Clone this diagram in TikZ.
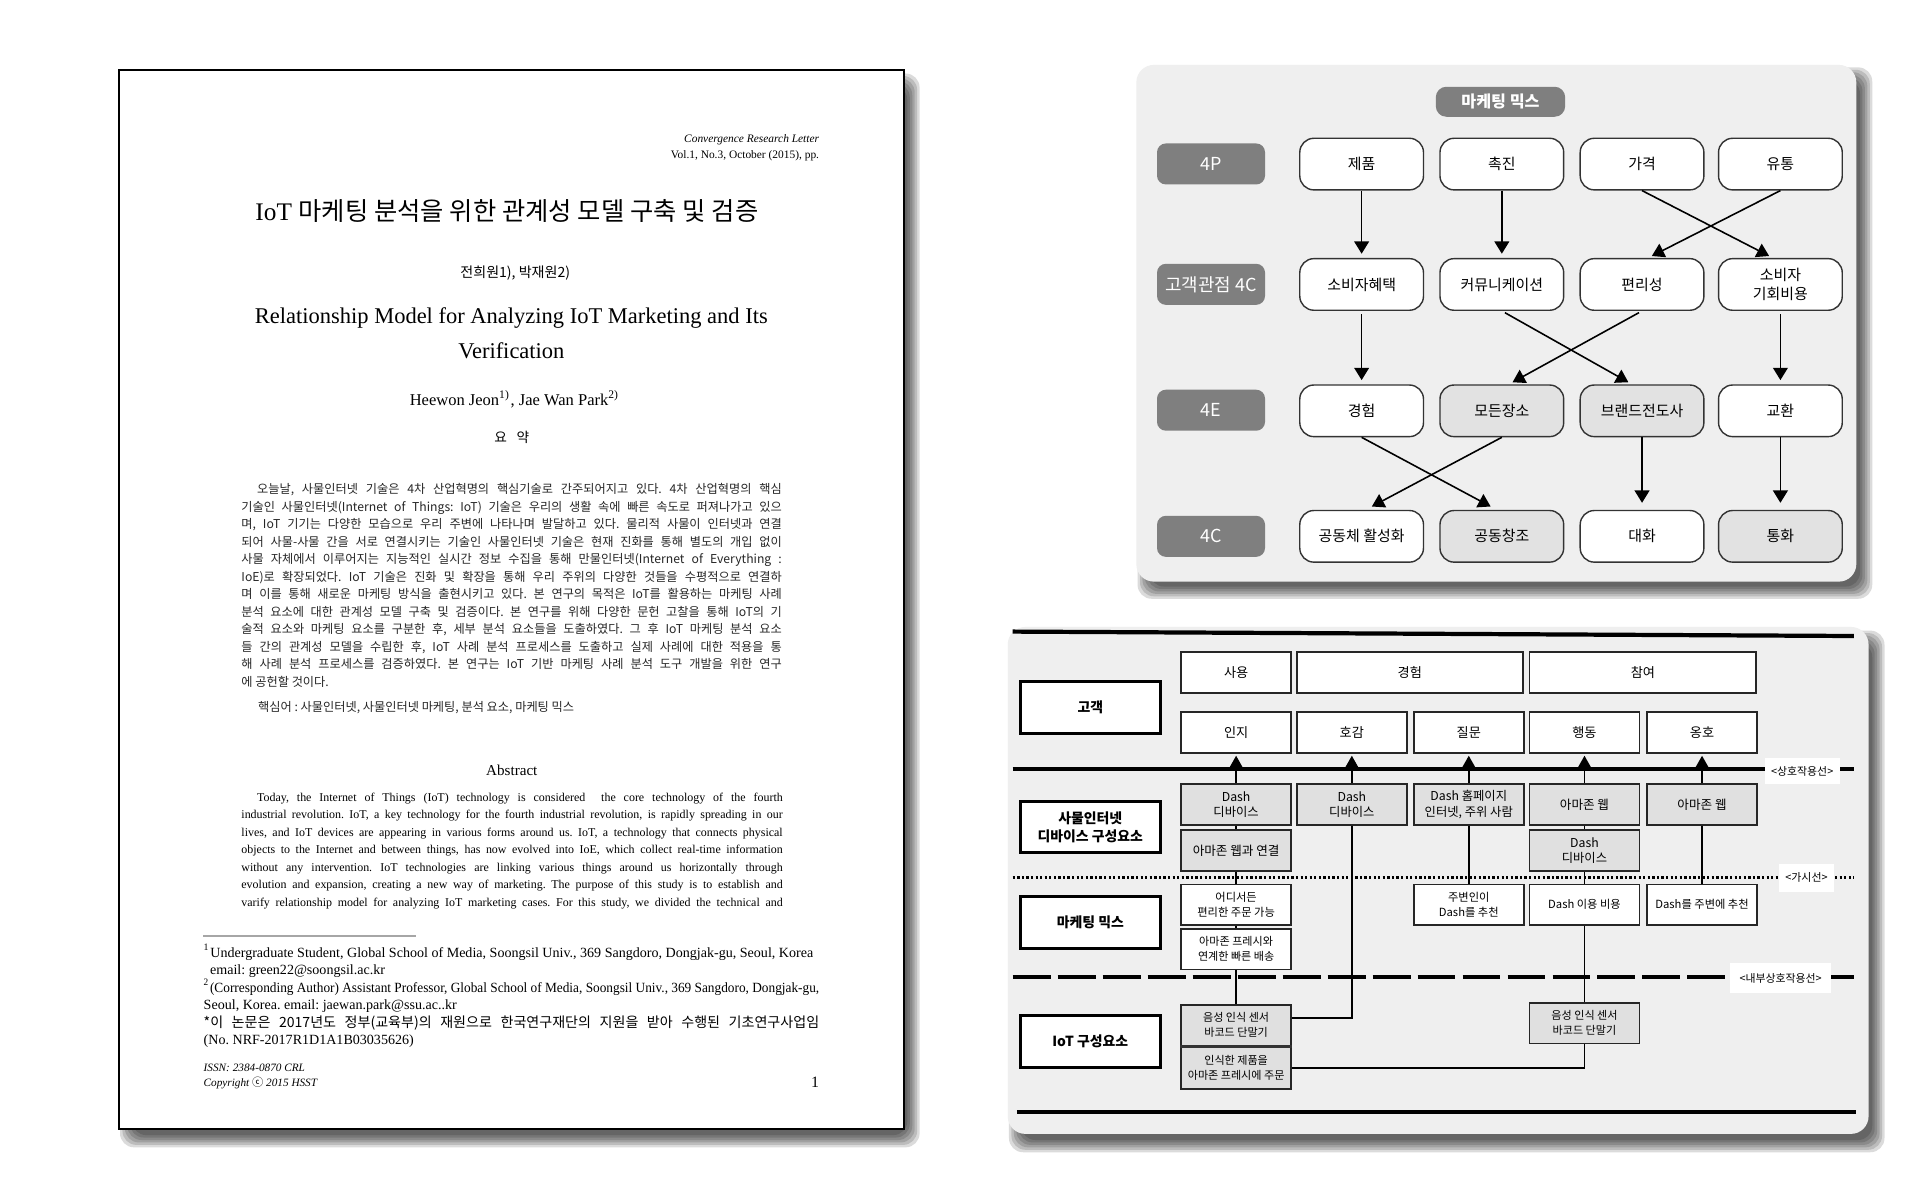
\documentclass[tikz,border=0pt]{standalone}
\usepackage{fontspec}
\usepackage{graphicx}
\setmainfont{Liberation Serif}
\newfontfamily\kr{Noto Sans CJK KR}
\usetikzlibrary{arrows.meta}
\frenchspacing

\definecolor{panelbg}{HTML}{EFEFEF}
\definecolor{tagfill}{HTML}{7F7F7F}
\definecolor{nodegray}{HTML}{E2E2E2}
\definecolor{cellgray}{HTML}{E0E0E0}

% blurred drop shadow, given the shifted rectangle
\newcommand{\softshadow}[4]{%
  \foreach \e in {6,4,2,0,-2,-4}
    \fill[black, opacity=0.14, rounded corners=4pt] ({#1-\e},{#2-\e}) rectangle ({#3+\e},{#4+\e});%
}
% one justified line of the page
\newsavebox\linebox
\newcommand{\fitline}[2]{%
  \sbox\linebox{#2}%
  \ifdim\wd\linebox>#1\relax\resizebox{#1}{\height}{\usebox\linebox}%
  \else\makebox[#1][s]{#2}\fi}

\begin{document}
\begin{tikzpicture}[x=0.122449mm, y=-0.122449mm,
  kline/.style={anchor=base west, inner sep=0pt, text=black!85, font=\kr\fontsize{3.47}{4}\selectfont},
  eline/.style={anchor=base west, inner sep=0pt, font=\fontsize{3.4}{4}\selectfont},
  fnote/.style={anchor=base west, inner sep=0pt, font=\fontsize{4}{5}\selectfont},
  fourbox/.style={draw=black!80, line width=0.4pt, fill=white, rounded corners=4pt,
    minimum width=12.37mm, minimum height=5.16mm, inner sep=0pt, align=center,
    font=\kr\fontsize{4.25}{5.5}\selectfont},
  fourgray/.style={fourbox, fill=nodegray},
  rowtag/.style={fill=tagfill, rounded corners=2.5pt, minimum width=10.8mm, minimum height=4.1mm,
    inner sep=0pt, text=white, font=\kr\fontsize{5.1}{6}\selectfont},
  fourarrow/.style={-{Triangle[length=3.5pt,width=4.2pt]}, line width=0.45pt, shorten >=1.2pt},
  cell/.style={draw=black!85, line width=0.5pt, minimum width=10.98mm, minimum height=4.05mm,
    inner sep=0pt, align=center},
  stagebox/.style={cell, fill=white, minimum height=4.1mm, font=\kr\fontsize{3.75}{4.5}\selectfont},
  devbox/.style={cell, fill=cellgray, font=\kr\fontsize{3.5}{4.4}\selectfont},
  mixcell/.style={cell, fill=white, font=\kr\fontsize{3.2}{4.25}\selectfont},
  iotbox/.style={cell, fill=cellgray, font=\kr\fontsize{3.15}{4.3}\selectfont},
  sidelabel/.style={draw, line width=0.85pt, fill=white, minimum width=14mm, minimum height=5.17mm,
    inner sep=0pt, align=center, font=\kr\bfseries\fontsize{3.95}{5.2}\selectfont},
  linetag/.style={fill=white, inner sep=0pt, font=\kr\fontsize{3.1}{3.6}\selectfont},
  cellarrow/.style={-{Triangle[length=3.3pt,width=3.6pt]}, line width=0.45pt, shorten >=0.6pt},
  cellline/.style={line width=0.45pt}]

\fill[white] (0,0) rectangle (1568,980);
\useasboundingbox (0,0) rectangle (1568,980);

% the paper page
\softshadow{104}{66}{745}{931}
\draw[fill=white, line width=0.5pt] (97,57) rectangle (738,922);
\node[anchor=base east, inner sep=0pt, font=\itshape\fontsize{3.25}{4}\selectfont] (journal) at (669.5,116) {Convergence Research Letter};
\node[anchor=base east, inner sep=0pt, font=\fontsize{3.25}{4}\selectfont] (volume) at (669.5,129.5) {Vol.1, No.3, October (2015), pp.};
\node[anchor=base, inner sep=0pt, font=\fontsize{7.2}{8}\selectfont] (ktitle) at (414,180) {\fitline{50.3mm}{IoT {\kr 마케팅 분석을 위한 관계성 모델 구축 및 검증}}};
\node[anchor=base, inner sep=0pt, font=\kr\fontsize{4}{5}\selectfont] (kauthors) at (420.8,226.5) {전희원1), 박재원2)};
\node[anchor=base, inner sep=0pt, font=\fontsize{6.4}{8}\selectfont] (etitle) at (417.6,264.2) {Relationship Model for Analyzing IoT Marketing and Its};
\node[anchor=base, inner sep=0pt, font=\fontsize{6.4}{8}\selectfont] (etitleb) at (417.6,292.9) {Verification};
\node[anchor=base, inner sep=0pt, font=\fontsize{4.7}{6}\selectfont] (eauthors) at (420.4,331) {Heewon Jeon\textsuperscript{1)}, Jae Wan Park\textsuperscript{2)}};
\node[anchor=base, inner sep=0pt, font=\kr\fontsize{3.9}{5}\selectfont] (yoyak) at (418,361.5) {\makebox[3.5mm][s]{요 약}};

% korean abstract
\node[kline] (kab1) at (209.4,403.4) {\fitline{52.47mm}{오늘날, 사물인터넷 기술은 4차 산업혁명의 핵심기술로 간주되어지고 있다. 4차 산업혁명의 핵심}};
\foreach \txt [count=\i from 2] in {
  {기술인 사물인터넷(Internet of Things: IoT) 기술은 우리의 생활 속에 빠른 속도로 퍼져나가고 있으},
  {며, IoT 기기는 다양한 모습으로 우리 주변에 나타나며 발달하고 있다. 물리적 사물이 인터넷과 연결},
  {되어 사물-사물 간을 서로 연결시키는 기술인 사물인터넷 기술은 현재 진화를 통해 별도의 개입 없이},
  {사물 자체에서 이루어지는 지능적인 실시간 정보 수집을 통해 만물인터넷(Internet of Everything :},
  {IoE)로 확장되었다. IoT 기술은 진화 및 확장을 통해 우리 주위의 다양한 것들을 수평적으로 연결하},
  {며 이를 통해 새로운 마케팅 방식을 출현시키고 있다. 본 연구의 목적은 IoT를 활용하는 마케팅 사례},
  {분석 요소에 대한 관계성 모델 구축 및 검증이다. 본 연구를 위해 다양한 문헌 고찰을 통해 IoT의 기},
  {술적 요소와 마케팅 요소를 구분한 후, 세부 분석 요소들을 도출하였다. 그 후 IoT 마케팅 분석 요소},
  {들 간의 관계성 모델을 수립한 후, IoT 사례 분석 프로세스를 도출하고 실제 사례에 대한 적용을 통},
  {해 사례 분석 프로세스를 검증하였다. 본 연구는 IoT 기반 마케팅 사례 분석 도구 개발을 위한 연구}}
  \node[kline] (kab\i) at (196.6,{403.4+14.29*(\i-1)}) {\fitline{54.04mm}{\txt}};
\node[kline] (kab12) at (196.6,560.6) {에 공헌할 것이다.};
\node[kline] (keywords) at (210.3,581) {핵심어 : 사물인터넷, 사물인터넷 마케팅, 분석 요소, 마케팅 믹스};

% english abstract
\node[anchor=base, inner sep=0pt, font=\fontsize{4.3}{5}\selectfont] (abstract) at (418,633) {Abstract};
\node[eline] (eab1) at (209.4,654.2) {\fitline{52.57mm}{Today, the Internet of Things (IoT) technology is considered\ \ the core technology of the fourth}};
\foreach \txt [count=\i from 2] in {
  {industrial revolution. IoT, a key technology for the fourth industrial revolution, is rapidly spreading in our},
  {lives, and IoT devices are appearing in various forms around us. IoT, a technology that connects physical},
  {objects to the Internet and between things, has now evolved into IoE, which collect real-time information},
  {without any intervention. IoT technologies are linking various things around us horizontally through},
  {evolution and expansion, creating a new way of marketing. The purpose of this study is to establish and},
  {varify relationship model for analyzing IoT marketing cases. For this study, we divided the technical and}}
  \node[eline] (eab\i) at (196.6,{654.2+14.35*(\i-1)}) {\fitline{54.13mm}{\txt}};

% footnotes
\draw[black!35, line width=0.6pt] (165.8,764.2) -- (339.7,764.2);
\node[fnote] (fn1) at (165.8,781.7) {\textsuperscript{1}Undergraduate Student, Global School of Media, Soongsil Univ., 369 Sangdoro, Dongjak-gu, Seoul, Korea};
\node[fnote] (fn1b) at (171,795.6) {email: green22@soongsil.ac.kr};
\node[fnote] (fn2) at (165.8,810.3) {\fitline{61.55mm}{\textsuperscript{2}(Corresponding Author) Assistant Professor, Global School of Media, Soongsil Univ., 369 Sangdoro, Dongjak-gu,}};
\node[fnote] (fn2b) at (165.8,824.7) {Seoul, Korea. email: jaewan.park@ssu.ac..kr};
\node[fnote, font=\kr\fontsize{4}{5}\selectfont] (fnfund) at (165.8,838.9) {\fitline{61.55mm}{*이 논문은 2017년도 정부(교육부)의 재원으로 한국연구재단의 지원을 받아 수행된 기초연구사업임}};
\node[fnote] (fnno) at (165.8,853.3) {(No. NRF-2017R1D1A1B03035626)};
\node[fnote, font=\itshape\fontsize{3.2}{4}\selectfont] (issn) at (165.8,875) {ISSN: 2384-0870 CRL};
\node[fnote, font=\itshape\fontsize{3.2}{4}\selectfont] (copyr) at (165.8,887.4) {Copyright {\kr ⓒ} 2015 HSST};
\node[anchor=base, inner sep=0pt, font=\fontsize{4.5}{5}\selectfont] (pageno) at (665.6,888) {1};

% marketing mix panel
\softshadow{935}{61}{1523}{483}
\fill[panelbg, rounded corners=5pt] (928,53) rectangle (1516,475);
\node[rowtag, minimum width=12.94mm, minimum height=3mm, rounded corners=3pt, font=\kr\bfseries\fontsize{4.6}{5}\selectfont] (mixhead) at (1225.4,83.1) {마케팅 믹스};
\node[rowtag] (tagfourp) at (989,133.9) {4P};
\node[rowtag] (tagcust) at (989,232.2) {고객관점 4C};
\node[rowtag] (tagfoure) at (989,335) {4E};
\node[rowtag] (tagfourc) at (989,438) {4C};

\node[fourbox] (prod) at (1112,134) {제품};
\node[fourbox] (promo) at (1226.5,134) {촉진};
\node[fourbox] (price) at (1341,134) {가격};
\node[fourbox] (place) at (1454,134) {유통};
\node[fourbox] (benefit) at (1112,232.3) {소비자혜택};
\node[fourbox] (comm) at (1226.5,232.3) {커뮤니케이션};
\node[fourbox] (conv) at (1341,232.3) {편리성};
\node[fourbox] (cost) at (1454,232.3) {소비자\\기회비용};
\node[fourbox] (exper) at (1112,335.5) {경험};
\node[fourgray] (every) at (1226.5,335.5) {모든장소};
\node[fourgray] (evang) at (1341,335.5) {브랜드전도사};
\node[fourbox] (exch) at (1454,335.5) {교환};
\node[fourbox] (commu) at (1112,438) {공동체 활성화};
\node[fourgray] (cocre) at (1226.5,438) {공동창조};
\node[fourbox] (dialog) at (1341,438) {대화};
\node[fourgray] (currency) at (1454,438) {통화};

\draw[fourarrow] (prod) -- (benefit);
\draw[fourarrow] (promo) -- (comm);
\draw[fourarrow] (price.south) -- ([xshift=-0.75mm]cost.north);
\draw[fourarrow] (place.south) -- ([xshift=0.6mm]conv.north);
\draw[fourarrow, shorten <=1pt] (benefit) -- (exper);
\draw[fourarrow, shorten <=1pt] (comm.south) -- ([xshift=-1mm]evang.north);
\draw[fourarrow, shorten <=1pt] (conv.south) -- ([xshift=0.7mm]every.north);
\draw[fourarrow, shorten <=1pt] (cost) -- (exch);
\draw[fourarrow, shorten >=2pt] (exper.south) -- ([xshift=-0.5mm]cocre.north);
\draw[fourarrow, shorten >=2pt] (every.south) -- ([xshift=0.4mm]commu.north);
\draw[fourarrow, shorten >=2pt] (evang) -- (dialog);
\draw[fourarrow, shorten >=2pt] (exch) -- (currency);

% service blueprint panel
\softshadow{830}{521}{1533}{935}
\fill[panelbg, rounded corners=5pt] (823,512) rectangle (1526,926);
\draw[line width=1.2pt] (827,515.8) -- (1514,519.4);
\draw[line width=1.2pt] (830.4,908) -- (1516,908);
\draw[line width=1.1pt] (827,628.1) -- (1514,628.1);
\draw[line width=0.8pt, dash pattern=on 0.65pt off 0.65pt] (827,716.8) -- (1514,716.8);
\draw[line width=1.15pt, dash pattern=on 10.8pt off 2pt] (827,798.2) -- (1514,798.2);
\node[linetag, minimum width=7.46mm, minimum height=2.57mm] (tagact) at (1471.8,629.9) {<상호작용선>};
\node[linetag, minimum width=5.45mm, minimum height=2.84mm] (tagvis) at (1475.3,716.8) {<가시선>};
\node[linetag, minimum width=10.04mm, minimum height=2.94mm] (taginner) at (1454.2,798.8) {<내부상호작용선>};

\node[sidelabel] (customer) at (890.4,577.8) {고객};
\node[sidelabel] (devparts) at (890.4,675.4) {사물인터넷\\디바이스 구성요소};
\node[sidelabel] (mixlabel) at (890.4,753.4) {마케팅 믹스};
\node[sidelabel] (iotparts) at (890.4,850.4) {IoT 구성요소};

\node[stagebox] (use) at (1009.5,549) {사용};
\node[stagebox, minimum width=22.57mm] (experience) at (1151.35,549) {경험};
\node[stagebox, minimum width=22.68mm] (engage) at (1341.7,549) {참여};
\node[stagebox] (aware) at (1009.5,598) {인지};
\node[stagebox] (like) at (1104,598) {호감};
\node[stagebox] (ask) at (1199.5,598) {질문};
\node[stagebox] (act) at (1294,598) {행동};
\node[stagebox] (advocate) at (1390,598) {옹호};

\node[devbox] (dev1) at (1009.5,656.9) {Dash\\디바이스};
\node[devbox] (dev2) at (1104,656.9) {Dash\\디바이스};
\node[devbox] (dev3) at (1199.5,656.9) {Dash 홈페이지\\인터넷, 주위 사람};
\node[devbox, font=\kr\fontsize{3.58}{4.4}\selectfont] (dev4) at (1294,656.9) {아마존 웹};
\node[devbox, font=\kr\fontsize{3.58}{4.4}\selectfont] (dev5) at (1390,656.9) {아마존 웹};
\node[devbox, font=\kr\fontsize{3.58}{4.4}\selectfont] (webcon) at (1009.5,694.6) {아마존 웹과 연결};
\node[devbox] (dash4) at (1294,694.6) {Dash\\디바이스};

\node[mixcell] (anywhere) at (1009.5,738.9) {어디서든\\편리한 주문 가능};
\node[mixcell] (recomm) at (1199.5,738.9) {주변인이\\Dash를 추천};
\node[mixcell] (usecost) at (1294,738.9) {Dash 이용 비용};
\node[mixcell] (spread) at (1390,738.9) {Dash를 주변에 추천};
\node[mixcell, font=\kr\fontsize{3.15}{4.25}\selectfont] (fresh) at (1009.5,775.2) {아마존 프레시와\\연계한 빠른 배송};

\node[iotbox] (sensor1) at (1009.5,837.3) {음성 인식 센서\\바코드 단말기};
\node[iotbox] (sensor4) at (1294,835.6) {음성 인식 센서\\바코드 단말기};
\node[iotbox, minimum height=4.18mm] (order) at (1009.5,872) {인식한 제품을\\아마존 프레시에 주문};
\draw[line width=1pt, black!80] (sensor1.south west) -- (sensor1.south east);

\draw[cellarrow] (dev1) -- (aware);
\draw[cellarrow] (dev2) -- (like);
\draw[cellarrow] (dev3) -- (ask);
\draw[cellarrow] (dev4) -- (act);
\draw[cellarrow] (dev5) -- (advocate);
\draw[cellline] (dev1) -- (webcon) -- (anywhere) -- (fresh) -- (sensor1);
\draw[cellline] (dev2) |- ([yshift=0.7mm]sensor1.east);
\draw[cellline] (dev3) -- (recomm);
\draw[cellline] (dev4) -- (dash4) -- (usecost) -- (sensor4);
\draw[cellline] (sensor4) |- (order);
\draw[cellline] (dev5) -- (spread);
\end{tikzpicture}
\end{document}
